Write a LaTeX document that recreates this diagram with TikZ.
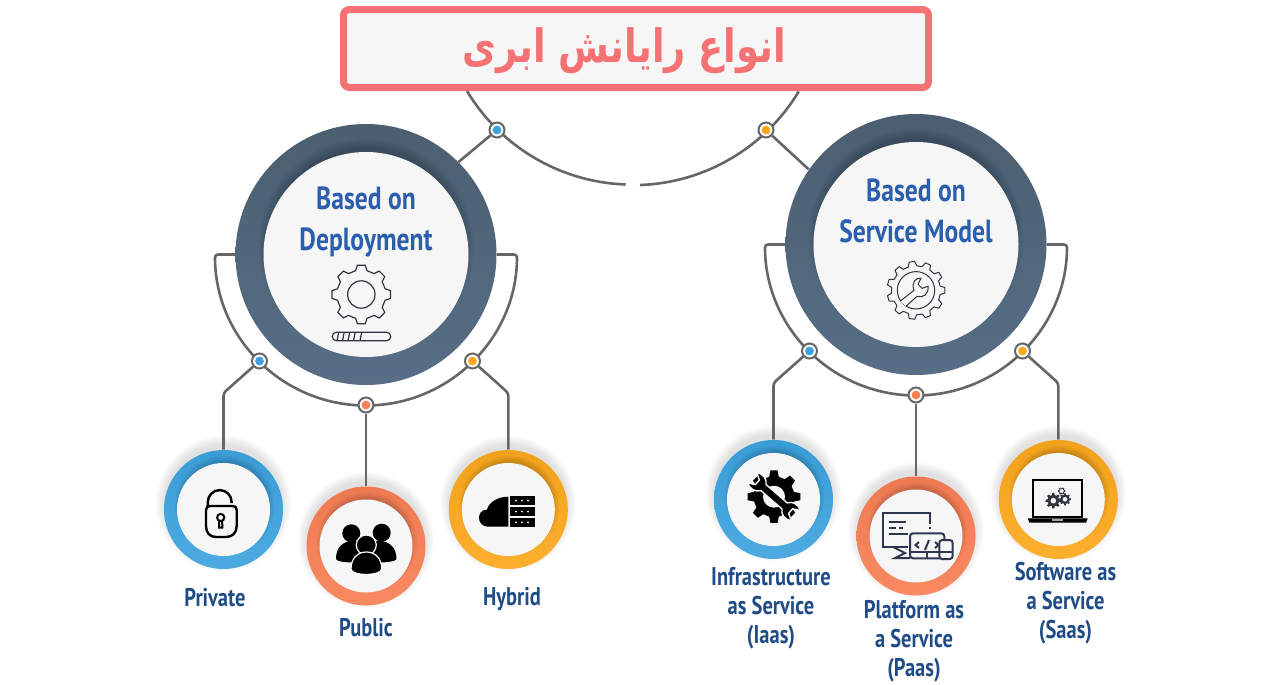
\documentclass[tikz,border=0pt]{standalone}
\usepackage{fontspec}
\usepackage{tikz}
\usetikzlibrary{backgrounds}
\TeXXeTstate=1
\newfontfamily\dinfont[FakeStretch=.8]{PT Sans}
\newfontfamily\persianfont[Script=Arabic, FakeStretch=.8]{DejaVu Sans}
\definecolor{wirecol}{HTML}{666666}
\definecolor{paper}{HTML}{F6F6F6}
\definecolor{rosecol}{HTML}{F47174}
\definecolor{headcol}{HTML}{2B5FAE}
\definecolor{labelcol}{HTML}{1F4C86}
\definecolor{bluecol}{HTML}{3DA3DF}
\definecolor{redcol}{HTML}{F97F55}
\definecolor{ambercol}{HTML}{FCA81C}
\definecolor{inkcol}{HTML}{30343C}
\definecolor{navycol}{HTML}{2E3650}
\definecolor{ringtop}{HTML}{4C5F70}
\definecolor{ringbot}{HTML}{576E86}
\tikzset{
  wire/.style={draw=wirecol, line width=1.3pt, rounded corners=1.5pt},
  titlebox/.style={draw=rosecol, fill=paper, line width=3.5pt, rounded corners=3pt, minimum width=292.5pt, minimum height=39pt},
  bigring/.style={circle, top color=ringtop, bottom color=ringbot, minimum size=130.5pt, inner sep=0pt},
  biginner/.style={circle, fill=paper, minimum size=102.5pt, inner sep=0pt},
  smallring/.style={circle, minimum size=59.5pt, inner sep=0pt},
  smallinner/.style={circle, fill=paper, minimum size=46.5pt, inner sep=0pt},
  dotnode/.style={circle, fill=white, draw=wirecol, line width=1pt, minimum size=7.5pt, inner sep=0pt,
    path picture={\fill[#1] (path picture bounding box.center) circle (4.4);}},
  headtext/.style={text=headcol, align=center, font=\dinfont\bfseries\fontsize{16}{20.5}\selectfont},
  leaftext/.style={text=labelcol, align=center, font=\dinfont\bfseries\fontsize{12.8}{14.5}\selectfont},
  pics/gearshape/.style args={#1/#2/#3}{code={
    \pgfmathsetmacro\gearstep{360/#1}
    \path[pic actions] ({-.3*\gearstep}:#2) \foreach \i in {0,...,\numexpr#1-1\relax}{
      -- ({(\i-.3)*\gearstep}:#2) -- ({(\i-.17)*\gearstep}:#3) -- ({(\i+.17)*\gearstep}:#3) -- ({(\i+.3)*\gearstep}:#2)
    } -- cycle;
  }}
}
\begin{document}
\begin{tikzpicture}[x=.5pt, y=-.5pt]
  \useasboundingbox (0, 0) rectangle (1280, 685);

  \node[titlebox] (title) at (636, 48.5) {};
  \node[text=rosecol, font=\persianfont\bfseries\fontsize{23}{28}\selectfont] (titletext) at (624.5, 51) {\beginR انواع رایانش ابری\endR};

  \foreach \name/\cx/\cy in {deploy/366/254.5, service/916/244.5} {
    \node[bigring] (\name) at (\cx, \cy) {};
    \foreach \r in {98,...,108} {
      \fill[black, opacity=.016] (\cx, \cy-8) circle (\r);
    }
    \node[biginner] (\name inner) at (\cx, \cy) {};
  }

  \foreach \name/\cx/\cy/\tone in {priv/223.5/509.5/bluecol, pub/366/546/redcol, hyb/508.3/509.5/ambercol, iaas/773.5/499.5/bluecol, paas/916/536/redcol, saas/1058.3/499.5/ambercol} {
    \node[smallring, top color=\tone!96!black, bottom color=\tone!92!white] (\name) at (\cx, \cy) {};
    \foreach \r in {44,...,50} {
      \fill[black, opacity=.022] (\cx+1, \cy-4) circle (\r);
    }
    \node[smallinner] (\name inner) at (\cx, \cy) {};
    \begin{scope}[on background layer]
      \foreach \r in {59,60,...,68} {
        \fill[black, opacity=.012] (\cx, \cy-6) circle (\r);
      }
    \end{scope}
  }

  \node[dotnode=bluecol] (dottop1) at (497, 130) {};
  \node[dotnode=ambercol] (dottop2) at (766, 130) {};
  \node[dotnode=bluecol] (dotpriv) at (259.5, 361) {};
  \node[dotnode=redcol] (dotpub) at (366, 405) {};
  \node[dotnode=ambercol] (dothyb) at (472.5, 361) {};
  \node[dotnode=bluecol] (dotiaas) at (809.5, 351) {};
  \node[dotnode=redcol] (dotpaas) at (916, 395) {};
  \node[dotnode=ambercol] (dotsaas) at (1022.5, 351) {};

  \coordinate (bendpriv) at (223.5, 393);
  \coordinate (bendhyb) at (508.3, 393);
  \coordinate (bendiaas) at (773.5, 383);
  \coordinate (bendsaas) at (1058.3, 383);

  \begin{scope}[on background layer]
    \draw[wire] (467, 91) arc[start angle=149, end angle=92, radius=193];
    \draw[wire] (640, 185) arc[start angle=88, end angle=31, radius=193];
    \draw[wire] (dottop1) -- (deploy.45);
    \draw[wire] (dottop2) -- (service.145);
    \draw[wire] (deploy.west) -- (215, 254.5) arc[start angle=180, end angle=0, radius=151] -- (deploy.east);
    \draw[wire] (service.west) -- (765, 244.5) arc[start angle=180, end angle=0, radius=151] -- (service.east);
    \draw[wire] (dotpriv) -- (bendpriv) -- (priv);
    \draw[wire] (dotpub) -- (pub);
    \draw[wire] (dothyb) -- (bendhyb) -- (hyb);
    \draw[wire] (dotiaas) -- (bendiaas) -- (iaas);
    \draw[wire] (dotpaas) -- (paas);
    \draw[wire] (dotsaas) -- (bendsaas) -- (saas);
  \end{scope}

  \node[headtext] (deploytext) at (366, 222) {Based on\\Deployment};
  \node[headtext] (servicetext) at (916, 211) {Based on\\Service Model};

  \node[leaftext] (privtext) at (215, 598) {Private};
  \node[leaftext] (pubtext) at (366, 628) {Public};
  \node[leaftext] (hybtext) at (512, 599) {Hybrid};
  \node[leaftext] (iaastext) at (771, 608) {Infrastructure\\as Service\\(Iaas)};
  \node[leaftext] (paastext) at (914, 641) {Platform as\\a Service\\(Paas)};
  \node[leaftext] (saastext) at (1065.5, 603) {Software as\\a Service\\(Saas)};

  \pic[draw=inkcol, fill=paper, line width=.6pt] at (361.3, 294.5) {gearshape=8/24.5/29.5};
  \draw[inkcol, line width=.6pt] (361.3, 294.5) circle (13.7);
  \draw[inkcol, line width=.6pt, rounded corners=2pt] (332.3, 332.3) rectangle (390.7, 340.7);
  \draw[inkcol, line width=.6pt] (361.7, 332.3) -- (360, 340.7);
  \foreach \x in {337,342.5,348,353.5} {
    \draw[inkcol, line width=.6pt] (\x+1.7, 332.3) -- (\x, 340.7);
  }

  \pic[draw=inkcol, fill=paper, line width=.5pt, line join=round] at (916, 290.3) {gearshape=11/24.5/29};
  \draw[inkcol, line width=.5pt] (916, 290.3) circle (18.7);
  \draw[inkcol, line width=.5pt, fill=paper, shift={(916, 290.3)}] (-16, 11) -- (-2, 0) .. controls (-5, -8) and (0, -13) .. (5, -12) -- (2, -6) -- (6, -2) -- (12, -4) .. controls (13, 4) and (7, 8) .. (1, 6) -- (-10, 16);

  \draw[black, line width=1.2pt, fill=paper] (206, 510) .. controls (206, 507) and (208, 506) .. (210, 506) -- (232.5, 506) .. controls (235, 506) and (236.7, 507) .. (236.7, 510) -- (236.7, 526) .. controls (236.7, 533) and (232, 537) .. (226, 537) -- (216, 537) .. controls (210, 537) and (206, 533) .. (206, 526) -- cycle;
  \draw[black, line width=1.2pt] (207.8, 506) -- (207.8, 502) arc[start angle=180, end angle=360, radius=11.9] -- (231.6, 503);
  \draw[black, line width=1pt] (220.7, 517.5) circle (3.6);
  \draw[black, line width=1pt] (219.3, 521) -- (219, 527.5) -- (222.4, 527.5) -- (222.1, 521);

  \begin{scope}
    \fill[black] (351.3, 533.3) circle (9);
    \fill[black] (381.7, 532.7) circle (9);
    \fill[black] (336, 559) .. controls (336, 548) and (342, 542) .. (351, 541) -- (381, 541) .. controls (390, 542) and (396.5, 548) .. (396.5, 559) .. controls (396, 561) and (388, 562.5) .. (378, 562.5) -- (354, 562.5) .. controls (344, 562.5) and (336, 561) .. (336, 559) -- cycle;
    \draw[white, line width=.6pt, fill=black] (366.3, 545) circle (10);
    \draw[white, line width=.6pt, fill=black] (351, 569) .. controls (351, 558) and (358, 552) .. (366.3, 552) .. controls (375, 552) and (381.7, 558) .. (381.7, 569) .. controls (381.7, 573) and (372, 574.5) .. (366.3, 574.5) .. controls (360, 574.5) and (351, 573) .. (351, 569) -- cycle;
  \end{scope}

  \fill[black] (508.3, 496.7) -- (508.3, 526.7) -- (488, 526.7) .. controls (482, 526.7) and (479, 522) .. (479, 518) .. controls (479, 514) and (481, 510) .. (487, 509.5) .. controls (489, 502) and (498, 496.7) .. (508.3, 496.7) -- cycle;
  \foreach \y in {496, 507, 517.7} {
    \fill[black] (509.5, \y) rectangle (535, \y+9.4);
    \foreach \x in {516, 522, 528} {
      \fill[white] (\x, \y+4.7) circle (1);
    }
  }

  \pic[fill=black] at (774, 496.7) {gearshape=8/20.5/26.5};
  \fill[paper] (774, 496.7) circle (11);
  \begin{scope}[shift={(774, 496.7)}, rotate=-41]
    \draw[paper, line width=.7pt, fill=black] (-14, -4) -- (14, -4) .. controls (17, -9) and (23, -10) .. (29, -7) -- (22, -3) -- (22, 3) -- (29, 7) .. controls (23, 10) and (17, 9) .. (14, 4) -- (-14, 4) .. controls (-17, 9) and (-23, 10) .. (-29, 7) -- (-22, 3) -- (-22, -3) -- (-29, -7) .. controls (-23, -10) and (-17, -9) .. (-14, -4) -- cycle;
  \end{scope}

  \begin{scope}[navycol, line width=1pt]
    \draw (930, 524) -- (930, 513.3) -- (882.7, 513.3) -- (882.7, 547) -- (908, 547);
    \draw (930, 527) -- (930, 529);
    \draw (889, 522) -- (906, 522) (889, 528) -- (896, 528) (899, 528) -- (903, 528) (889, 534) -- (908, 534);
    \draw (893, 547) -- (905, 553) -- (895, 558) -- (910, 558);
    \draw[rounded corners=1.5pt, fill=paper] (910, 533.3) rectangle (944.3, 558.3);
    \draw (910, 552) -- (944.3, 552);
    \draw (919, 542) -- (915.5, 545) -- (919, 548) (935, 542) -- (938.5, 545) -- (935, 548) (929, 540) -- (925, 550);
    \draw (927, 552) -- (927, 558.3);
    \draw[rounded corners=1.5pt, fill=paper] (939.3, 540) rectangle (952.7, 559);
    \draw (939.3, 552) -- (952.7, 552);
  \end{scope}

  \draw[black, line width=1.1pt, fill=paper] (1033.2, 479.8) rectangle (1082.2, 517);
  \fill[black] (1027.7, 518.3) -- (1087.7, 518.3) -- (1086, 522.7) -- (1029.4, 522.7) -- cycle;
  \fill[gray!70] (1052, 519) rectangle (1063, 520.5);
  \pic[fill=inkcol] at (1053.3, 500.7) {gearshape=8/5.8/7.8};
  \fill[paper] (1053.3, 500.7) circle (2.8);
  \pic[fill=inkcol] at (1065, 499.3) {gearshape=8/4.5/6};
  \fill[paper] (1065, 499.3) circle (2.3);
  \pic[draw=inkcol, fill=paper, line width=.4pt] at (1061.7, 491) {gearshape=6/2.3/3.2};
\end{tikzpicture}
\end{document}
